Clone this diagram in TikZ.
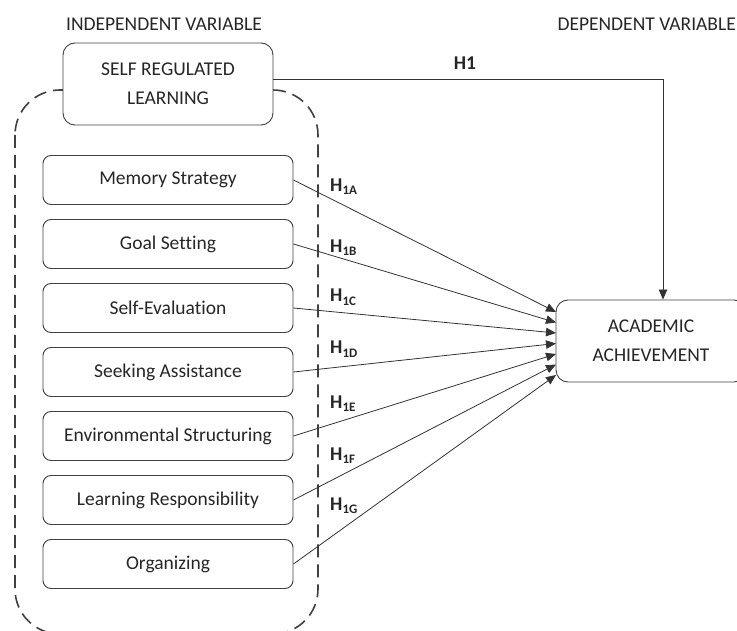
\documentclass[tikz,border=0pt]{standalone}
\usepackage{fontspec}
\setmainfont{Carlito}[Ligatures={NoCommon}]
\usetikzlibrary{arrows.meta}
\colorlet{boxline}{black!75}
\colorlet{txt}{black!85}
% hypothesis label with a lowered index
\newcommand{\hyp}[1]{\textbf{H\raisebox{-3pt}{\fontsize{13}{13}\selectfont #1}}}

\begin{document}
\begin{tikzpicture}[x=1pt, y=-1pt,
        every node/.style={font=\fontsize{19.5}{29}\selectfont, text=txt},
        varbox/.style={draw=boxline, line width=0.9pt, rounded corners=8pt,
            minimum width=250pt, minimum height=49pt, inner sep=0pt, align=center},
        link/.style={draw=black!80, line width=0.8pt, -{Triangle[length=10pt, width=8.5pt]}}]
        \useasboundingbox (0,0) rectangle (737,631);
        % headings
        \node (indep) at (164,24) {INDEPENDENT VARIABLE};
        \node[anchor=east, inner sep=0pt] (dep) at (736,24) {DEPENDENT VARIABLE};
        % dashed group round the dimensions
        \draw[boxline, line width=1.6pt, dash pattern=on 13pt off 7pt,
            rounded corners=45pt] (15,90) rectangle (318,634);
        % main boxes
        \node[varbox, fill=white, minimum width=210pt, minimum height=82pt,
            rounded corners=12pt] (srl) at (168,84) {SELF REGULATED\\LEARNING};
        \node[varbox, minimum width=190pt, minimum height=82pt,
            rounded corners=12pt] (acad) at (651,341) {ACADEMIC\\ACHIEVEMENT};
        % dimensions
        \foreach \name [count=\i] in {Memory Strategy, Goal Setting, Self-Evaluation,
            Seeking Assistance, Environmental Structuring, Learning Responsibility, Organizing}
        {
            \node[varbox] (dim\i) at (168,116+64*\i) {\name};
        }
        % arrows into the outcome
        \foreach \i in {1,...,7}
        {
            \coordinate (in\i) at (556,301.5+10.5*\i);
            \draw[link] (dim\i.east) -- (in\i);
        }
        \foreach \s/\y [count=\i] in {A/192, B/253, C/302, D/354, E/408, F/460, G/510}
        {
            \node[anchor=base west, inner sep=0pt] (hyp\i) at (330,\y) {\hyp{1\s}};
        }
        % direct path
        \coordinate (corner) at (663,79);
        \draw[link] (srl.east |- corner) -- (corner) -- (corner |- acad.north);
        \node[font=\bfseries\fontsize{19.5}{29}\selectfont] (hmain) at (465,63) {H1};
    \end{tikzpicture}
\end{document}
